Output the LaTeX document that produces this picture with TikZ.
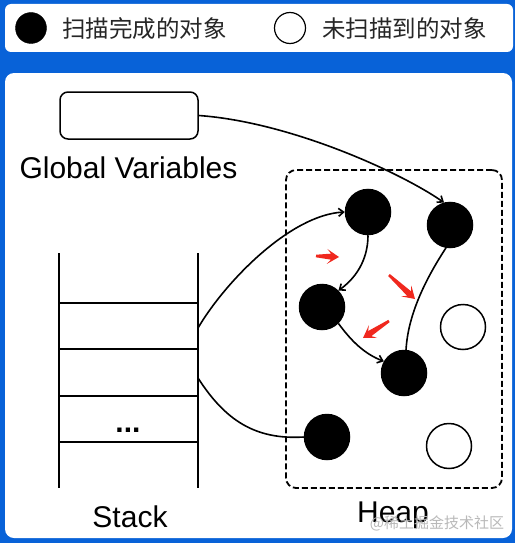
\documentclass[tikz,border=0pt]{standalone}
\usepackage{fontspec}
\setmainfont{Liberation Sans}
\newfontfamily\cjk{Noto Sans CJK SC}
\usetikzlibrary{arrows.meta,calc}
\definecolor{bgblue}{RGB}{8,98,216}
\definecolor{arrowred}{RGB}{240,40,30}
\newcommand\rarrow[2]{%
  \path (#2) coordinate (tp) ($(#2)!12pt!(#1)$) coordinate (hb) ($(#2)!8pt!(#1)$) coordinate (nb) (#1) coordinate (tl);
  \fill[arrowred] (tp) -- ($(hb)!7.5pt!90:(tp)$) -- ($(nb)!3pt!90:(tp)$) -- ($(tl)!1.3pt!90:(tp)$) -- ($(tl)!1.3pt!-90:(tp)$) -- ($(nb)!3pt!-90:(tp)$) -- ($(hb)!7.5pt!-90:(tp)$) -- cycle;}
\begin{document}
\begin{tikzpicture}[x=1pt,y=-1pt,
  panel/.style={fill=white, draw=none},
  obj/.style={circle, draw=black, line width=1.5pt, minimum size=45pt, inner sep=0pt},
  done/.style={obj, fill=black},
  todo/.style={obj, fill=white},
  legdone/.style={circle, fill=black, draw=black, minimum size=31pt, inner sep=0pt},
  legtodo/.style={circle, fill=white, draw=black, line width=1.2pt, minimum size=31pt, inner sep=0pt},
  legtext/.style={font=\cjk\fontsize{23.5}{28}\selectfont, anchor=west, inner sep=0pt, text=black!85},
  link/.style={line width=1.6pt, -{Straight Barb[length=5pt,width=8pt]}},
  plain/.style={line width=1.6pt},
  biglabel/.style={font=\fontsize{30}{36}\selectfont, anchor=base, inner sep=0pt},
  stackline/.style={line width=1.7pt},
]
\useasboundingbox (0,0) rectangle (515,543);
\fill[bgblue] (0,0) rectangle (515,543);
% panels
\fill[panel, rounded corners=6pt] (5,4) rectangle (513,52);
\fill[panel, rounded corners=9pt] (5,73) rectangle (512,538);

% legend
\node[legdone] (ld) at (31,28) {};
\node[legtext] (ldt) at (62,29) {扫描完成的对象};
\node[legtodo] (lt) at (290,28) {};
\node[legtext] (ltt) at (322,29) {未扫描到的对象};

% global variables
\node[draw, rounded corners=8pt, line width=1.5pt, minimum width=138pt, minimum height=47pt, inner sep=0pt] (gv) at (129,115.5) {};
\node[biglabel] (gvl) at (128.5,178) {Global Variables};

% stack
\draw[stackline] (59,253) -- (59,488);
\draw[stackline] (198,253) -- (198,488);
\foreach \yy in {303,349,396,442} \draw[stackline] (59,\yy) -- (198,\yy);
\node[font=\bfseries\fontsize{30}{36}\selectfont, inner sep=0pt] (dots) at (128,430) {...};
\node[biglabel] (stl) at (130,527) {Stack};
\coordinate (s1) at (198,328);
\coordinate (s2) at (198,378);

% heap
\node[draw, dash pattern=on 6pt off 3pt, rounded corners=10pt, line width=1.8pt, minimum width=216pt, minimum height=318pt, inner sep=0pt] (heap) at (394,329) {};
\node[biglabel] (hpl) at (393,522) {Heap};

\node[done] (A) at (368,212) {};
\node[done] (B) at (450,225) {};
\node[done] (C) at (322,307) {};
\node[done] (D) at (404,373) {};
\node[todo] (E) at (463,327) {};
\node[done] (F) at (327,437) {};
\node[todo] (G) at (449,446) {};

% connectors
\draw[link] (gv.east) .. controls (290,122) and (400,172) .. (B.105);
\draw[link] (s1) .. controls (225,282) and (290,215) .. (A.west);
\draw[plain] (s2) .. controls (225,420) and (255,440) .. (F.west);
\draw[link] (A.south) .. controls (368,255) and (360,275) .. (C.45);
\draw[link] (C.-45) .. controls (352,342) and (365,354) .. (D.150);
\draw[plain] (B.-100) .. controls (425,280) and (408,315) .. (D.85);

% red arrows
\coordinate (r1a) at (316,256); \coordinate (r1b) at (339,257);
\coordinate (r2a) at (389,275); \coordinate (r2b) at (415,299);
\coordinate (r3a) at (389,321); \coordinate (r3b) at (363,338);
\rarrow{r1a}{r1b}
\rarrow{r2a}{r2b}
\rarrow{r3a}{r3b}

% watermark
\node[font=\cjk\fontsize{15}{18}\selectfont, text=gray!55, inner sep=0pt] (wm) at (437,523) {@稀土掘金技术社区};
\end{tikzpicture}
\end{document}
